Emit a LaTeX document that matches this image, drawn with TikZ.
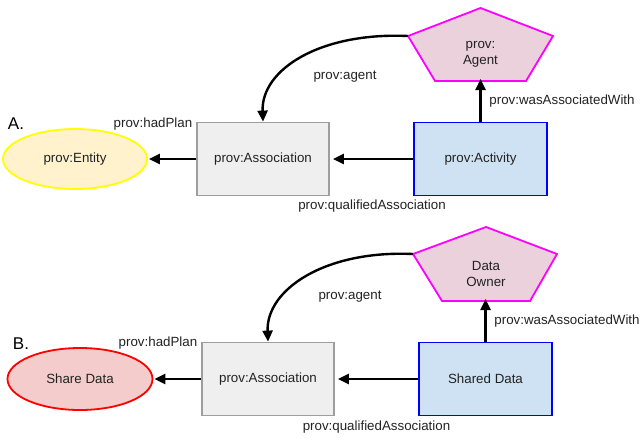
\documentclass[tikz,border=0pt]{standalone}
\usepackage{fontspec}
\setmainfont{Liberation Sans}
\usetikzlibrary{arrows.meta,shapes.geometric}
\definecolor{txt}{HTML}{222222}
\definecolor{entfill}{HTML}{FFF2CC}
\definecolor{entdraw}{HTML}{FFFF00}
\definecolor{shfill}{HTML}{F4CCCC}
\definecolor{shdraw}{HTML}{FF0000}
\definecolor{asfill}{HTML}{EFEFEF}
\definecolor{asdraw}{HTML}{9E9E9E}
\definecolor{acfill}{HTML}{CFE2F3}
\definecolor{acdraw}{HTML}{0000FF}
\definecolor{agfill}{HTML}{EAD1DC}
\definecolor{agdraw}{HTML}{FF00FF}
\tikzset{
  txtfont/.style={font=\fontsize{13.33}{15.5}\selectfont, text=txt},
  lbl/.style={txtfont, inner sep=0pt, anchor=center},
  big/.style={font=\fontsize{17}{20}\selectfont, text=black, inner sep=0pt, anchor=center},
  ellnode/.style={ellipse, draw=#1, line width=1.8pt, minimum width=144pt, minimum height=60pt, inner sep=0pt, txtfont},
  assocbox/.style={rectangle, draw=asdraw, fill=asfill, line width=1.8pt, minimum width=132pt, minimum height=73pt, inner sep=0pt, txtfont},
  actbox/.style={rectangle, draw=acdraw, fill=acfill, line width=1.8pt, minimum width=133pt, minimum height=73pt, inner sep=0pt, txtfont},
  agentshape/.style={draw=agdraw, fill=agfill, line width=1.8pt, line join=miter},
  conn/.style={draw=black, line width=2.4pt, -{Triangle[length=11pt,width=10pt]}},
}
\begin{document}
\begin{tikzpicture}[x=1pt,y=-1pt]
\useasboundingbox (0,0) rectangle (644,437);

% ---------- Panel A ----------
\node[big] (labA) at (16,124) {A.};
\node[ellnode=entdraw, fill=entfill] (entA) at (75,159) {prov:Entity};
\node[assocbox] (asA) at (263,159) {prov:Association};
\node[actbox] (acA) at (480.5,159) {prov:Activity};
\coordinate (agAt) at (480.5,8);
\coordinate (agAul) at (408,36);
\coordinate (agAur) at (553,36);
\coordinate (agAll) at (435,81);
\coordinate (agAlr) at (526,81);
\coordinate (agAb) at (480.5,81);
\draw[agentshape] (agAt) -- (agAur) -- (agAlr) -- (agAll) -- (agAul) -- cycle;
\node[lbl, align=center] (agA) at (480.5,54.5) {prov:\\Agent};

\draw[conn] (acA.west) -- ([xshift=3pt]asA.east);
\draw[conn] (asA.west) -- ([xshift=1pt]entA.east);
\draw[conn] (acA.north) -- ([yshift=2pt]agAb);
\draw[conn] (agAul) .. controls +(-88,-4) and +(-2,-52) .. (asA.north);

\node[lbl] (hpA) at (153,124) {prov:hadPlan};
\node[lbl] (paA) at (345,77) {prov:agent};
\node[lbl] (qaA) at (372,206) {prov:qualifiedAssociation};
\node[lbl] (waA) at (562,101) {prov:wasAssociatedWith};

% ---------- Panel B ----------
\node[big] (labB) at (21,344) {B.};
\node[ellnode=shdraw, fill=shfill, minimum width=145pt, minimum height=62pt] (entB) at (80,379) {Share Data};
\node[assocbox] (asB) at (268,379) {prov:Association};
\node[actbox] (acB) at (485.5,379) {Shared Data};
\coordinate (agBt) at (486,227);
\coordinate (agBul) at (413,254);
\coordinate (agBur) at (557,254);
\coordinate (agBll) at (442,301);
\coordinate (agBlr) at (530,301);
\coordinate (agBb) at (485.5,301);
\draw[agentshape] (agBt) -- (agBur) -- (agBlr) -- (agBll) -- (agBul) -- cycle;
\node[lbl, align=center] (agB) at (486,274) {Data\\Owner};

\draw[conn] (acB.west) -- ([xshift=3pt]asB.east);
\draw[conn] (asB.west) -- ([xshift=1pt]entB.east);
\draw[conn] (acB.north) -- ([yshift=2pt]agBb);
\draw[conn] (agBul) .. controls +(-88,-4) and +(-2,-52) .. (asB.north);

\node[lbl] (hpB) at (158,343) {prov:hadPlan};
\node[lbl] (paB) at (350,297) {prov:agent};
\node[lbl] (qaB) at (376.5,427) {prov:qualifiedAssociation};
\node[lbl] (waB) at (567,321) {prov:wasAssociatedWith};
\end{tikzpicture}
\end{document}
